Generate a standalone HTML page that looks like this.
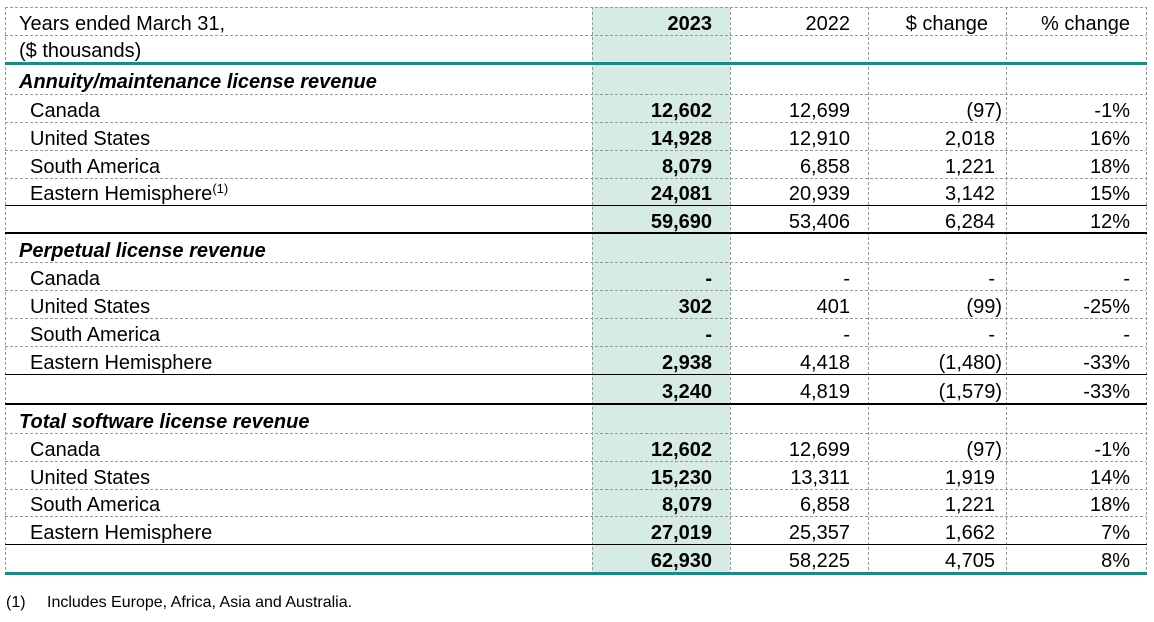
<!DOCTYPE html>
<html>
<head>
<meta charset="utf-8">
<style>
  html,body{margin:0;padding:0;background:#fff;}
  svg{display:block;}
  text{font-family:"Liberation Sans", Arial, sans-serif;font-size:20px;fill:#000;}
  .b{font-weight:bold;}
  .bi{font-weight:bold;font-style:italic;}
  .r{text-anchor:end;}
  .fn{font-size:16px;}
  .sup{font-size:13px;}
</style>
</head>
<body>
<svg width="1154" height="622" viewBox="0 0 1154 622" xmlns="http://www.w3.org/2000/svg">
  <rect x="0" y="0" width="1154" height="622" fill="#fff"/>
  <!-- 2023 column fill -->
  <rect x="592" y="7" width="138" height="566" fill="#d6ebe5"/>

  <!-- dashed horizontal gridlines -->
  <g stroke="#999" stroke-width="1" stroke-dasharray="3,2" shape-rendering="crispEdges">
    <line x1="5" y1="7.5" x2="1146" y2="7.5"/>
    <line x1="5" y1="35.5" x2="1146" y2="35.5"/>
    <line x1="5" y1="94.5" x2="1146" y2="94.5"/>
    <line x1="5" y1="122.5" x2="1146" y2="122.5"/>
    <line x1="5" y1="150.5" x2="1146" y2="150.5"/>
    <line x1="5" y1="178.5" x2="1146" y2="178.5"/>
    <line x1="5" y1="262.5" x2="1146" y2="262.5"/>
    <line x1="5" y1="290.5" x2="1146" y2="290.5"/>
    <line x1="5" y1="318.5" x2="1146" y2="318.5"/>
    <line x1="5" y1="346.5" x2="1146" y2="346.5"/>
    <line x1="5" y1="433.5" x2="1146" y2="433.5"/>
    <line x1="5" y1="461.5" x2="1146" y2="461.5"/>
    <line x1="5" y1="489.5" x2="1146" y2="489.5"/>
    <line x1="5" y1="516.5" x2="1146" y2="516.5"/>
    <!-- vertical -->
    <line x1="5.5" y1="7" x2="5.5" y2="573"/>
    <line x1="592.5" y1="7" x2="592.5" y2="573"/>
    <line x1="730.5" y1="7" x2="730.5" y2="573"/>
    <line x1="868.5" y1="7" x2="868.5" y2="573"/>
    <line x1="1006.5" y1="7" x2="1006.5" y2="573"/>
    <line x1="1146.5" y1="7" x2="1146.5" y2="573"/>
  </g>

  <!-- solid black rules -->
  <g stroke="#000" shape-rendering="crispEdges">
    <line x1="5" y1="205.5" x2="1147" y2="205.5" stroke-width="1"/>
    <line x1="5" y1="233" x2="1147" y2="233" stroke-width="2"/>
    <line x1="5" y1="374.5" x2="1147" y2="374.5" stroke-width="1"/>
    <line x1="5" y1="404" x2="1147" y2="404" stroke-width="2"/>
    <line x1="5" y1="544.5" x2="1147" y2="544.5" stroke-width="1"/>
  </g>
  <!-- teal rules -->
  <g stroke="#00968a" stroke-width="3" shape-rendering="crispEdges">
    <line x1="5" y1="63.5" x2="1147" y2="63.5"/>
    <line x1="5" y1="573.5" x2="1147" y2="573.5"/>
  </g>

  <!-- header -->
  <text x="19" y="30">Years ended March 31,</text>
  <text x="19" y="57">($ thousands)</text>
  <text x="712" y="30" class="r b">2023</text>
  <text x="850" y="30" class="r">2022</text>
  <text x="988" y="30" class="r">$ change</text>
  <text x="1130" y="30" class="r">% change</text>

  <!-- Annuity section -->
  <text x="19" y="88" class="bi">Annuity/maintenance license revenue</text>

  <text x="30" y="117">Canada</text>
  <text x="712" y="117" class="r b">12,602</text>
  <text x="850" y="117" class="r">12,699</text>
  <text x="1002" y="117" class="r">(97)</text>
  <text x="1130" y="117" class="r">-1%</text>

  <text x="30" y="145">United States</text>
  <text x="712" y="145" class="r b">14,928</text>
  <text x="850" y="145" class="r">12,910</text>
  <text x="995" y="145" class="r">2,018</text>
  <text x="1130" y="145" class="r">16%</text>

  <text x="30" y="173">South America</text>
  <text x="712" y="173" class="r b">8,079</text>
  <text x="850" y="173" class="r">6,858</text>
  <text x="995" y="173" class="r">1,221</text>
  <text x="1130" y="173" class="r">18%</text>

  <text x="30" y="200">Eastern Hemisphere<tspan class="sup" dy="-7">(1)</tspan></text>
  <text x="712" y="200" class="r b">24,081</text>
  <text x="850" y="200" class="r">20,939</text>
  <text x="995" y="200" class="r">3,142</text>
  <text x="1130" y="200" class="r">15%</text>

  <text x="712" y="228" class="r b">59,690</text>
  <text x="850" y="228" class="r">53,406</text>
  <text x="995" y="228" class="r">6,284</text>
  <text x="1130" y="228" class="r">12%</text>

  <!-- Perpetual section -->
  <text x="19" y="257" class="bi">Perpetual license revenue</text>

  <text x="30" y="285">Canada</text>
  <text x="712" y="285" class="r b">-</text>
  <text x="850" y="285" class="r">-</text>
  <text x="995" y="285" class="r">-</text>
  <text x="1130" y="285" class="r">-</text>

  <text x="30" y="313">United States</text>
  <text x="712" y="313" class="r b">302</text>
  <text x="850" y="313" class="r">401</text>
  <text x="1002" y="313" class="r">(99)</text>
  <text x="1130" y="313" class="r">-25%</text>

  <text x="30" y="341">South America</text>
  <text x="712" y="341" class="r b">-</text>
  <text x="850" y="341" class="r">-</text>
  <text x="995" y="341" class="r">-</text>
  <text x="1130" y="341" class="r">-</text>

  <text x="30" y="369">Eastern Hemisphere</text>
  <text x="712" y="369" class="r b">2,938</text>
  <text x="850" y="369" class="r">4,418</text>
  <text x="1002" y="369" class="r">(1,480)</text>
  <text x="1130" y="369" class="r">-33%</text>

  <text x="712" y="398" class="r b">3,240</text>
  <text x="850" y="398" class="r">4,819</text>
  <text x="1002" y="398" class="r">(1,579)</text>
  <text x="1130" y="398" class="r">-33%</text>

  <!-- Total section -->
  <text x="19" y="428" class="bi">Total software license revenue</text>

  <text x="30" y="456">Canada</text>
  <text x="712" y="456" class="r b">12,602</text>
  <text x="850" y="456" class="r">12,699</text>
  <text x="1002" y="456" class="r">(97)</text>
  <text x="1130" y="456" class="r">-1%</text>

  <text x="30" y="484">United States</text>
  <text x="712" y="484" class="r b">15,230</text>
  <text x="850" y="484" class="r">13,311</text>
  <text x="995" y="484" class="r">1,919</text>
  <text x="1130" y="484" class="r">14%</text>

  <text x="30" y="511">South America</text>
  <text x="712" y="511" class="r b">8,079</text>
  <text x="850" y="511" class="r">6,858</text>
  <text x="995" y="511" class="r">1,221</text>
  <text x="1130" y="511" class="r">18%</text>

  <text x="30" y="539">Eastern Hemisphere</text>
  <text x="712" y="539" class="r b">27,019</text>
  <text x="850" y="539" class="r">25,357</text>
  <text x="995" y="539" class="r">1,662</text>
  <text x="1130" y="539" class="r">7%</text>

  <text x="712" y="567" class="r b">62,930</text>
  <text x="850" y="567" class="r">58,225</text>
  <text x="995" y="567" class="r">4,705</text>
  <text x="1130" y="567" class="r">8%</text>

  <!-- footnote -->
  <text x="6" y="607" class="fn">(1)</text>
  <text x="47" y="607" class="fn">Includes Europe, Africa, Asia and Australia.</text>
</svg>
</body>
</html>
